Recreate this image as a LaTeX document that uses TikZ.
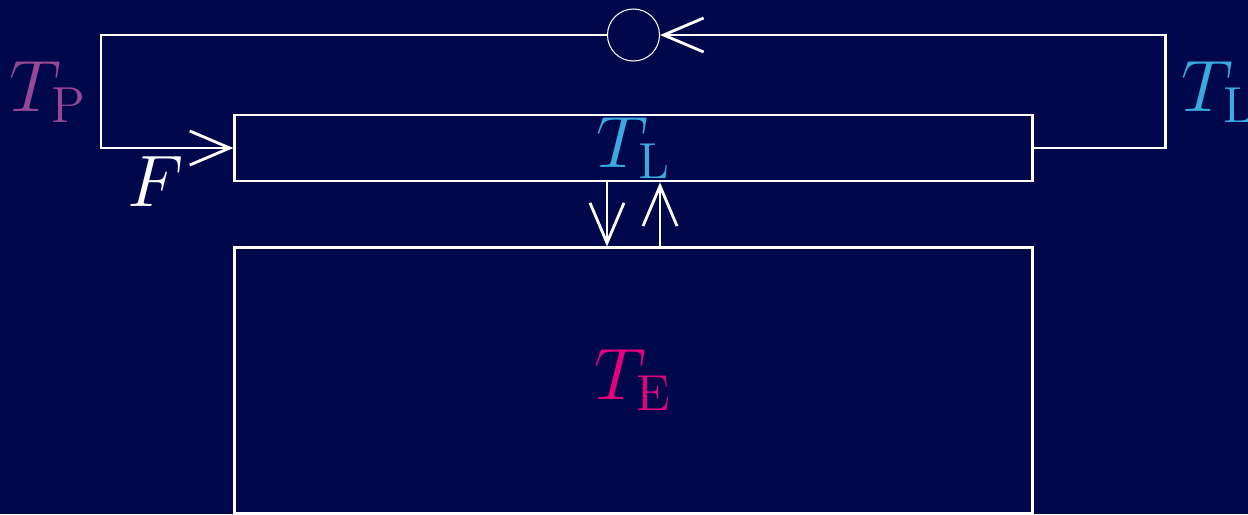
\documentclass[tikz,border=0pt]{standalone}
\usetikzlibrary{arrows.meta,positioning}
\definecolor{bgnavy}{RGB}{0,8,75}
\definecolor{tpurple}{RGB}{150,72,150}
\definecolor{tlblue}{RGB}{58,170,224}
\definecolor{temagenta}{RGB}{230,0,126}

\begin{document}
\begin{tikzpicture}[x=0.01cm, y=-0.01cm,
      wire/.style={draw=white, line width=0.8pt},
      barb/.style={-{Straight Barb[length=0.4cm, width=0.34cm, line width=0.8pt]}},
      block/.style={draw=white, line width=0.8pt, minimum width=7.97cm,
                    inner sep=0pt, font=\fontsize{20.5}{24}\selectfont},
      lbl/.style={inner sep=0pt, font=\fontsize{20.5}{24}\selectfont}
    ]
    \fill[bgnavy] (0,0) rectangle (1248,514);
    \useasboundingbox (0,0) rectangle (1248,514);
    \node[block, minimum height=0.66cm, text=tlblue] (tl) at (633.5,148) {$T_{\mathrm{L}}$};
    \node[block, minimum height=2.65cm, text=temagenta, below=0.64cm of tl] (te) {$T_{\mathrm{E}}$};
    \node[circle, draw=white, line width=0.3pt, minimum size=0.52cm,
          inner sep=0pt, above=0.52cm of tl] (sum) {};
    \node[lbl, text=tpurple] (tp) at (48,92) {$T_{\mathrm{P}}$};
    \node[lbl, text=white] (f) at (156,182) {$F$};
    \node[lbl, text=tlblue] (tlout) at (1219,92) {$T_{\mathrm{L}}$};
    \draw[wire, barb] (tl.east) -- ++(132,0) |- (sum.east);
    \draw[wire, barb] (sum.west) -- ++(-506,0) |- (tl.west);
    \draw[wire, line width=0.4pt, barb] ([xshift=-0.265cm]tl.south) -- ([xshift=-0.265cm]te.north);
    \draw[wire, barb] ([xshift=0.265cm]te.north) -- ([xshift=0.265cm]tl.south);
  \end{tikzpicture}
\end{document}
